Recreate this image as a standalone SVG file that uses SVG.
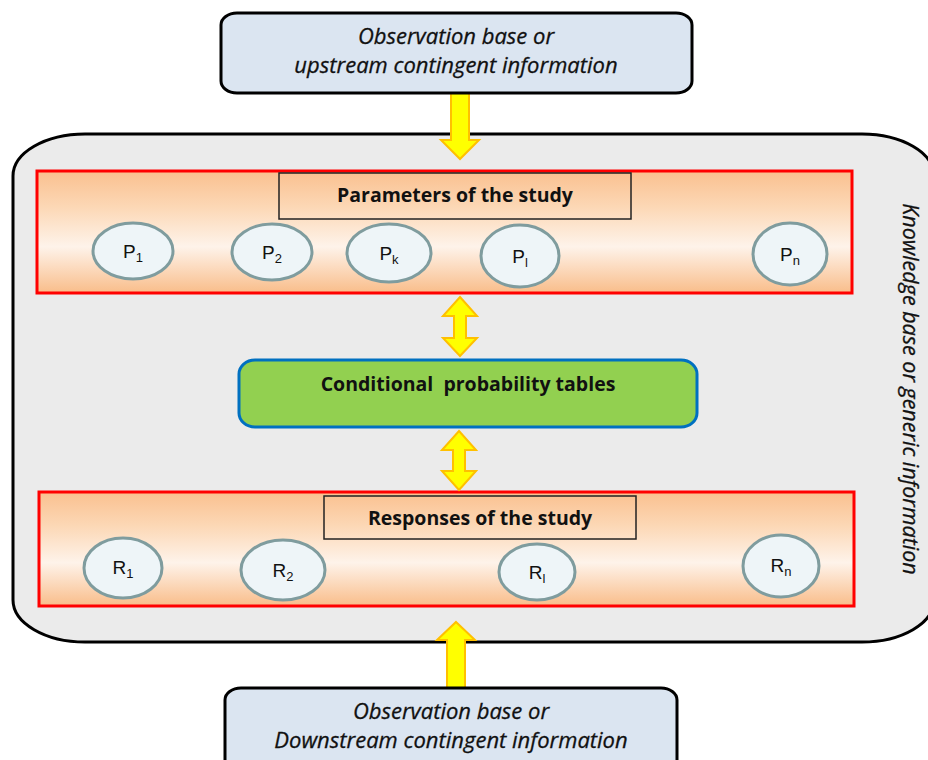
<svg xmlns="http://www.w3.org/2000/svg" width="928" height="760" viewBox="0 0 928 760">
<defs>
<linearGradient id="orng" x1="0" y1="0" x2="0" y2="1">
<stop offset="0" stop-color="#fac08f"/>
<stop offset="0.3" stop-color="#fcd8b6"/>
<stop offset="0.62" stop-color="#fef3ea"/>
<stop offset="1" stop-color="#f9bd8a"/>
</linearGradient>
</defs>
<style>
.obs{fill:#dbe5f1;stroke:#000;stroke-width:3}
.itl{font-family:"Open Sans","DejaVu Sans",sans-serif;font-style:italic;font-size:22px;fill:#111;text-anchor:middle;stroke:#111;stroke-width:0.3}
.kb{font-size:21.5px}
.bld{font-family:"Open Sans","DejaVu Sans",sans-serif;font-weight:bold;font-size:19.5px;fill:#111;text-anchor:middle}
.band{fill:url(#orng);stroke:#ff0000;stroke-width:3}
.ttl{fill:none;stroke:#222;stroke-width:1.5}
.var{fill:#eef5f8;stroke:#7f9c9e;stroke-width:3}
.lbl{font-family:"Liberation Sans",Arial,sans-serif;font-size:19px;fill:#111;text-anchor:middle}
.sub{font-size:13px}
.arr{fill:#ffff00;stroke:#ffc000;stroke-width:2;stroke-linejoin:miter}
</style>
<rect width="928" height="760" fill="#ffffff"/>

<g id="knowledge">
<rect x="13" y="134" width="921" height="508" rx="72" ry="42" fill="#ebebeb" stroke="#000" stroke-width="3"/>
<text class="itl kb" transform="translate(903,389) rotate(90)">Knowledge base or generic information</text>
</g>

<g id="parameters">
<rect class="band" x="37" y="171" width="815" height="122"/>
<rect class="ttl" x="279" y="173" width="352" height="46"/>
<text class="bld" x="455" y="202">Parameters of the study</text>
</g>
<g id="P1"><ellipse class="var" cx="133" cy="251" rx="40" ry="28"/><text class="lbl" x="133" y="258">P<tspan class="sub" dy="4">1</tspan></text></g>
<g id="P2"><ellipse class="var" cx="272" cy="252" rx="40" ry="28"/><text class="lbl" x="272" y="259">P<tspan class="sub" dy="4">2</tspan></text></g>
<g id="Pk"><ellipse class="var" cx="389" cy="253" rx="42" ry="29"/><text class="lbl" x="389" y="260">P<tspan class="sub" dy="4">k</tspan></text></g>
<g id="Pl"><ellipse class="var" cx="520" cy="256" rx="39" ry="31"/><text class="lbl" x="520" y="263">P<tspan class="sub" dy="4">l</tspan></text></g>
<g id="Pn"><ellipse class="var" cx="790" cy="254" rx="37" ry="31"/><text class="lbl" x="790" y="261">P<tspan class="sub" dy="4">n</tspan></text></g>

<g id="cpt">
<rect x="239" y="360" width="458" height="67" rx="16" ry="14" fill="#92d050" stroke="#0070c0" stroke-width="3"/>
<text class="bld" x="468" y="391" xml:space="preserve">Conditional  probability tables</text>
</g>

<g id="responses">
<rect class="band" x="39" y="492" width="815" height="114"/>
<rect class="ttl" x="324" y="496" width="312" height="43"/>
<text class="bld" x="480" y="525">Responses of the study</text>
</g>
<g id="R1"><ellipse class="var" cx="123" cy="568" rx="39" ry="30"/><text class="lbl" x="123" y="574">R<tspan class="sub" dy="4">1</tspan></text></g>
<g id="R2"><ellipse class="var" cx="283" cy="570" rx="42" ry="30"/><text class="lbl" x="283" y="577">R<tspan class="sub" dy="4">2</tspan></text></g>
<g id="Rl"><ellipse class="var" cx="537" cy="572" rx="38" ry="28"/><text class="lbl" x="537" y="579">R<tspan class="sub" dy="4">l</tspan></text></g>
<g id="Rn"><ellipse class="var" cx="781" cy="566" rx="38" ry="31"/><text class="lbl" x="781" y="572">R<tspan class="sub" dy="4">n</tspan></text></g>

<g id="connectors">
<polygon class="arr" points="451,93 469,93 469,140 479,140 460,159 441,140 451,140"/>
<polygon class="arr" points="460,297 477,316 466,316 466,338 477,338 460,356 443,338 454,338 454,316 443,316"/>
<polygon class="arr" points="459,431 476,450 465,450 465,471 476,471 459,490 442,471 453,471 453,450 442,450"/>
<polygon class="arr" points="456,622 475,640 465,640 465,690 447,690 447,640 437,640"/>
</g>

<g id="upstream">
<rect class="obs" x="221" y="13" width="471" height="80" rx="16" ry="12"/>
<text class="itl" x="456" y="44">Observation base or</text>
<text class="itl" x="456" y="73">upstream contingent information</text>
</g>

<g id="downstream">
<rect class="obs" x="225" y="688" width="452" height="100" rx="16" ry="12"/>
<text class="itl" x="451" y="719">Observation base or</text>
<text class="itl" x="451" y="748">Downstream contingent information</text>
</g>
</svg>
